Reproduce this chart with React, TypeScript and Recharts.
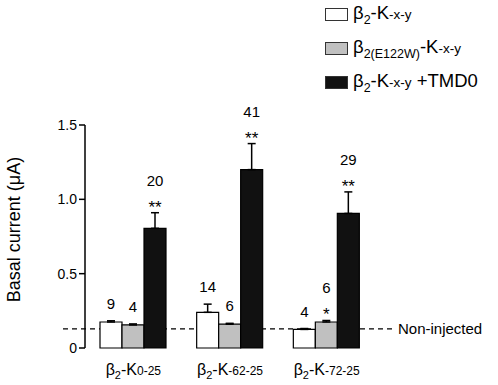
import React from 'react';
import { BarChart, Bar, XAxis, YAxis, ErrorBar, ReferenceLine, LabelList } from 'recharts';

// ---- data ----
const categories = ['β2-K0-25', 'β2-K-62-25', 'β2-K-72-25'];
const tickSuffix = ['0-25', '-62-25', '-72-25'];

const wtMean = [0.175, 0.24, 0.125];
const wtErr = [0.008, 0.055, 0.006];
const wtN = [9, 14, 4];
const wtSig = ['', '', ''];

const mutMean = [0.155, 0.16, 0.175];
const mutErr = [0.007, 0.006, 0.01];
const mutN = [4, 6, 6];
const mutSig = ['', '', '*'];

const tmdMean = [0.805, 1.2, 0.905];
const tmdErr = [0.105, 0.175, 0.145];
const tmdN = [20, 41, 29];
const tmdSig = ['**', '**', '**'];

const nonInjected = 0.128;
const yTicks = [0, 0.5, 1.0, 1.5];

const FONT = 'Arial, "Liberation Sans", sans-serif';
const W = 498;
const H = 385;
const MARGIN = { top: 125, right: 123, bottom: 0, left: 25 };

const data = categories.map((name, i) => ({
  name,
  suffix: tickSuffix[i],
  wt: wtMean[i],
  wtE: [0, wtErr[i]],
  mut: mutMean[i],
  mutE: [0, mutErr[i]],
  tmd: tmdMean[i],
  tmdE: [0, tmdErr[i]],
}));

const makeCountLabel = (nArr: number[], sigArr: string[], errArr: number[]) => (props: any) => {
  const { x, y, width, height, value, index } = props;
  const i = typeof index === 'number' ? index : 0;
  const v = Number(value);
  const pxPerUnit = v ? Math.abs(height) / v : 0;
  const errTop = y - errArr[i] * pxPerUnit;
  const cx = x + width / 2;
  const sig = sigArr[i];
  if (sig) {
    const starBase = errTop - 6;
    return (
      <g>
        <text x={cx} y={starBase + 6} textAnchor="middle" fontSize={17} fontFamily={FONT} fill="#000">
          {sig}
        </text>
        <text x={cx} y={starBase - 21} textAnchor="middle" fontSize={15} fontFamily={FONT} fill="#000">
          {nArr[i]}
        </text>
      </g>
    );
  }
  return (
    <text x={cx} y={errTop - 12} textAnchor="middle" fontSize={15} fontFamily={FONT} fill="#000">
      {nArr[i]}
    </text>
  );
};

const XTick = (props: any) => {
  const { x, y, payload, index } = props;
  const i = typeof index === 'number' ? index : categories.indexOf(payload.value);
  return (
    <text x={x} y={y + 19} textAnchor="middle" fontFamily={FONT} fill="#000" fontSize={16}>
      <tspan>β</tspan>
      <tspan fontSize={11} dy={4}>2</tspan>
      <tspan dy={-4}>-K</tspan>
      <tspan fontSize={12}>{tickSuffix[i]}</tspan>
    </text>
  );
};

const Swatch = ({ fill }: { fill: string }) => (
  <div
    style={{
      width: 21,
      height: 11,
      background: fill,
      border: '1.5px solid #333',
      marginRight: 5,
      flexShrink: 0,
    }}
  />
);

const legendRow: React.CSSProperties = {
  display: 'flex',
  alignItems: 'center',
  height: 34,
  fontFamily: FONT,
  fontSize: 18.5,
  color: '#000',
  whiteSpace: 'nowrap',
};

const SUB = 12.5;
const SMALL = 13.5;

const LegendContent = () => (
  <div>
    <div style={legendRow}>
      <Swatch fill="#ffffff" />
      <span>
        β<sub style={{ fontSize: SUB }}>2</sub>-K<span style={{ fontSize: SMALL }}>-x-y</span>
      </span>
    </div>
    <div style={legendRow}>
      <Swatch fill="#c0c0c0" />
      <span>
        β<sub style={{ fontSize: SUB }}>2(E122W)</sub>-K<span style={{ fontSize: SMALL }}>-x-y</span>
      </span>
    </div>
    <div style={legendRow}>
      <Swatch fill="#111111" />
      <span>
        β<sub style={{ fontSize: SUB }}>2</sub>-K<span style={{ fontSize: SMALL }}>-x-y</span> +TMD0
      </span>
    </div>
  </div>
);

const RefShape = (p: any) => {
  const { x1, y1, x2 } = p;
  return (
    <g>
      <line x1={x1 - 22} y1={y1} x2={x2 + 20} y2={y1} stroke="#000" strokeWidth={1.2} strokeDasharray="5 4" />
      <text x={x2 + 23} y={y1 + 5} fontSize={15} fontFamily={FONT} fill="#000">
        Non-injected
      </text>
    </g>
  );
};

const YLabel = (props: any) => {
  const vb = props.viewBox || {};
  const cx = vb.x - 11;
  const cy = vb.y + vb.height / 2 - 7;
  return (
    <text
      x={cx}
      y={cy}
      transform={`rotate(-90, ${cx}, ${cy})`}
      textAnchor="middle"
      dominantBaseline="central"
      fontSize={18}
      fontFamily={FONT}
      fill="#000"
    >
      Basal current (μA)
    </text>
  );
};

const layer: React.CSSProperties = { position: 'absolute', left: 0, top: 0 };

export default function App() {
  return (
    <div style={{ position: 'absolute', left: 0, top: 0, width: W, height: H, background: '#fff' }}>
      {/* underlay: reference line drawn behind bars */}
      <div style={layer}>
        <BarChart width={W} height={H} data={data} margin={MARGIN} barGap={0} barSize={22}>
          <XAxis dataKey="name" axisLine={false} tickLine={false} tick={false} height={37} />
          <YAxis domain={[0, 1.5]} ticks={yTicks} width={60} axisLine={false} tickLine={false} tick={false} />
          <Bar dataKey="wt" fill="none" stroke="none" isAnimationActive={false} />
          <ReferenceLine y={nonInjected} shape={<RefShape />} ifOverflow="visible" />
        </BarChart>
      </div>
      <div style={layer}>
        <BarChart width={W} height={H} data={data} margin={MARGIN} barGap={0} barSize={22}>
          <XAxis dataKey="name" axisLine={false} tickLine={false} height={37} tick={<XTick />} interval={0} />
          <YAxis
            domain={[0, 1.5]}
            ticks={yTicks}
            width={60}
            tickFormatter={(v: number) => (v === 0 ? '0' : v.toFixed(1))}
            tick={{ fontSize: 14, fontFamily: FONT, fill: '#000' }}
            axisLine={{ stroke: '#000', strokeWidth: 1.5 }}
            tickLine={{ stroke: '#000', strokeWidth: 1.5 }}
            tickSize={6}
            label={<YLabel />}
          />
          <Bar dataKey="wt" fill="#ffffff" stroke="#000" strokeWidth={1.2} isAnimationActive={false}>
            <ErrorBar dataKey="wtE" width={4} stroke="#000" strokeWidth={1.5} direction="y" />
            <LabelList dataKey="wt" content={makeCountLabel(wtN, wtSig, wtErr)} />
          </Bar>
          <Bar dataKey="mut" fill="#c0c0c0" stroke="#000" strokeWidth={1.2} isAnimationActive={false}>
            <ErrorBar dataKey="mutE" width={4} stroke="#000" strokeWidth={1.5} direction="y" />
            <LabelList dataKey="mut" content={makeCountLabel(mutN, mutSig, mutErr)} />
          </Bar>
          <Bar dataKey="tmd" fill="#111111" stroke="#000" strokeWidth={1.2} isAnimationActive={false}>
            <ErrorBar dataKey="tmdE" width={4} stroke="#000" strokeWidth={1.5} direction="y" />
            <LabelList dataKey="tmd" content={makeCountLabel(tmdN, tmdSig, tmdErr)} />
          </Bar>
        </BarChart>
      </div>
      <div style={{ position: 'absolute', left: 325, top: -3 }}>
        <LegendContent />
      </div>
    </div>
  );
}
